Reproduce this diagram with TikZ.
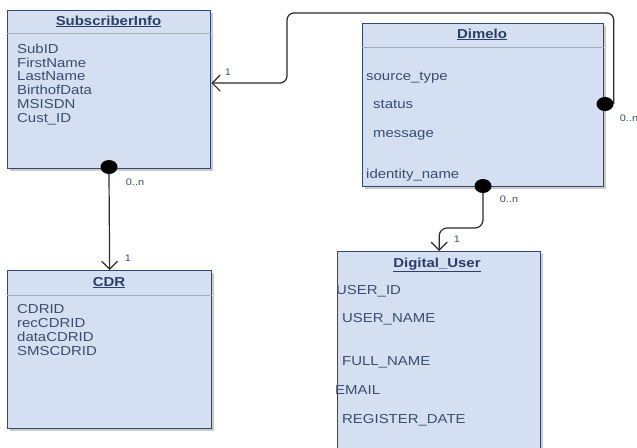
\documentclass[tikz,border=0pt]{standalone}
\usepackage{fontspec}
\setmainfont{Liberation Sans}[FakeStretch=1.15]
\usetikzlibrary{arrows.meta,shadows,shapes.geometric}
\definecolor{boxfill}{HTML}{D4E0F2}
\definecolor{boxline}{HTML}{2E4A72}
\definecolor{txt}{HTML}{3A4C70}
\definecolor{ttl}{HTML}{2A3E66}
\definecolor{sepcol}{HTML}{A3AAB5}
\definecolor{conncol}{HTML}{2A2A2A}
\begin{document}
\begin{tikzpicture}[x=1pt,y=-1pt,
 box/.style={draw=boxline, line width=1.3pt, fill=boxfill, anchor=north west, inner sep=0,
   drop shadow={shadow xshift=2pt,shadow yshift=-2pt,fill=black!40,opacity=0.5}},
 attr/.style={anchor=base west, inner sep=0, text=txt, font=\fontsize{13}{14}\selectfont},
 ttlstyle/.style={anchor=base, inner sep=0, text=ttl, font=\fontsize{13}{14}\selectfont\bfseries},
 dot/.style={ellipse, fill=black, minimum width=17pt, minimum height=14pt, inner sep=0},
 lbl/.style={inner sep=0, text=txt, font=\fontsize{9.5}{10}\selectfont},
 link/.style={draw=conncol, line width=1.2pt},
 tip/.style={-{Straight Barb[length=8pt,width=16pt]}},
 sepline/.style={draw=sepcol, line width=0.9pt}
]
\useasboundingbox (0,0) rectangle (637,447);
\clip (0,0) rectangle (637,447);
\fill[white] (0,0) rectangle (637,447);

% boxes
\node[box, minimum width=203pt, minimum height=158pt] (sub) at (7,10) {};
\node[box, minimum width=204pt, minimum height=158pt] (cdr) at (7,270) {};
\node[box, minimum width=241pt, minimum height=163pt] (dim) at (362,23) {};
\node[box, minimum width=203pt, minimum height=220pt] (du) at (337,251) {};

% separators
\draw[sepline] (sub.west |- 0,33) -- (sub.east |- 0,33);
\draw[sepline] (cdr.west |- 0,295) -- (cdr.east |- 0,295);
\draw[sepline] (dim.west |- 0,47) -- (dim.east |- 0,47);

% SubscriberInfo
\node[ttlstyle] (subt) at (108.5,25) {\underline{SubscriberInfo}};
\node[attr] (s1) at (17,53) {SubID};
\node[attr] (s2) at (17,67) {FirstName};
\node[attr] (s3) at (17,80.5) {LastName};
\node[attr] (s4) at (17,94.5) {BirthofData};
\node[attr] (s5) at (17,108) {MSISDN};
\node[attr] (s6) at (17,122) {Cust\_ID};

% CDR
\node[ttlstyle] (cdrt) at (109,286) {\underline{CDR}};
\node[attr] (c1) at (17,313) {CDRID};
\node[attr] (c2) at (17,327) {recCDRID};
\node[attr] (c3) at (17,341) {dataCDRID};
\node[attr] (c4) at (17,355) {SMSCDRID};

% Dimelo
\node[ttlstyle] (dimt) at (482,38) {\underline{Dimelo}};
\node[attr] (m1) at (366,80.5) {source\_type};
\node[attr] (m2) at (373,108.5) {status};
\node[attr] (m3) at (373,137.5) {message};
\node[attr] (m4) at (366,178.5) {identity\_name};

% Digital_User
\node[ttlstyle] (dut) at (437,267) {\underline{Digital\_User}};
\node[attr] (u1) at (336,294) {USER\_ID};
\node[attr] (u2) at (342,322) {USER\_NAME};
\node[attr] (u3) at (342,365) {FULL\_NAME};
\node[attr] (u4) at (335,394) {EMAIL};
\node[attr] (u5) at (342,423) {REGISTER\_DATE};

% dots
\node[dot] (d1) at (109,167) {};
\node[dot] (d2) at (605,104) {};
\node[dot] (d3) at (483,186) {};

% connectors
\coordinate (k1) at (287,13);
\coordinate (k2) at (287,83);
\draw[link,tip] (d1.south) -- (cdr.north);
\draw[link,tip,rounded corners=7pt] (d2.east) -- (d2.east |- k1) -- (k1) -- (k2) -- (sub.east |- k2);
\draw[link,tip,rounded corners=8pt] (d3.south) -- (d3.south |- 0,228) -| (du.north);

% multiplicities
\node[lbl] (l1) at (135,182) {0..n};
\node[lbl] (l2) at (128,258) {1};
\node[lbl] (l3) at (228,72) {1};
\node[lbl] (l4) at (629,118) {0..n};
\node[lbl] (l5) at (509,199) {0..n};
\node[lbl] (l6) at (457,239) {1};
\end{tikzpicture}
\end{document}
